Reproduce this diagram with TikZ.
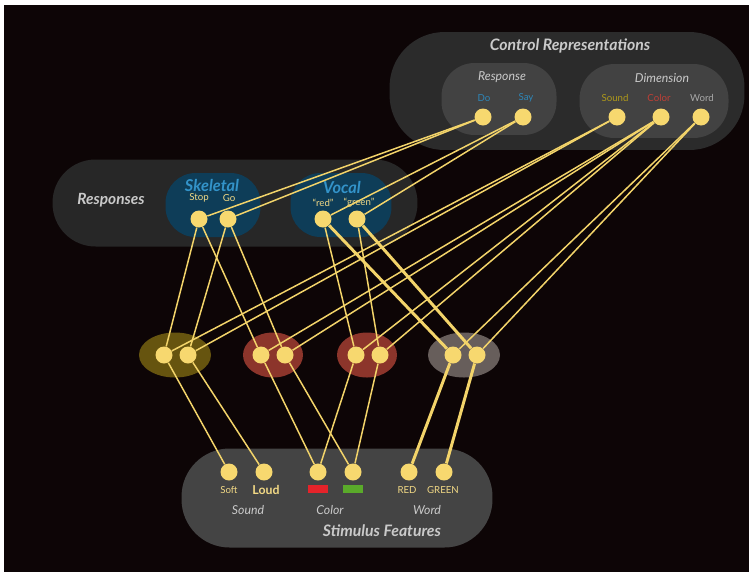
\documentclass[tikz,border=0pt]{standalone}
\usepackage{fontspec}
\setmainfont{Lato}
\usetikzlibrary{positioning}

\definecolor{bgdark}{HTML}{0D0506}
\definecolor{boxouter}{HTML}{2B2B2B}
\definecolor{boxinner}{HTML}{424242}
\definecolor{boxresp}{HTML}{272727}
\definecolor{boxstim}{HTML}{444444}
\definecolor{blobblue}{HTML}{0E3D58}
\definecolor{unityel}{HTML}{F7D86F}
\definecolor{linkyel}{HTML}{F3D46A}
\definecolor{ovsound}{HTML}{66540F}
\definecolor{ovcolor}{HTML}{8C352B}
\definecolor{ovword}{HTML}{675E5B}
\definecolor{titlegray}{HTML}{CACACA}
\definecolor{txtblue}{HTML}{2E86B8}
\definecolor{headblue}{HTML}{3393C9}
\definecolor{txtsound}{HTML}{B09A1A}
\definecolor{txtcolor}{HTML}{BF3F36}
\definecolor{txtword}{HTML}{A9A9A9}
\definecolor{txtyel}{HTML}{F2D985}
\definecolor{rectred}{HTML}{E5232A}
\definecolor{rectgreen}{HTML}{5AAA2A}

\begin{document}
\begin{tikzpicture}[x=0.02cm,y=-0.02cm,
    unit/.style={circle,fill=unityel,minimum size=0.34cm,inner sep=0pt},
    link/.style={draw=linkyel,line width=0.85pt},
    boldlink/.style={draw=linkyel,line width=1.7pt},
    pill/.style={inner sep=0pt},
    head/.style={font=\fontsize{9}{10}\selectfont\bfseries\itshape,text=titlegray},
    bluehead/.style={font=\fontsize{9.3}{10}\selectfont\bfseries\itshape,text=headblue},
    sub/.style={font=\fontsize{7}{8}\selectfont\itshape,text=titlegray},
    small/.style={font=\fontsize{5.5}{6}\selectfont}]
    \useasboundingbox (0,0) rectangle (749,572);
    \fill[bgdark] (4,5) rectangle (749,572); %background

    % containers
    \node[pill,fill=boxouter,minimum width=7.1cm,minimum height=2.36cm,rounded corners=1.1cm] (ctrlbox) at (567,91) {};
    \node[pill,fill=boxinner,minimum width=2.3cm,minimum height=1.44cm,rounded corners=0.66cm] (respbox) at (499,99) {};
    \node[pill,fill=boxinner,minimum width=2.98cm,minimum height=1.48cm,rounded corners=0.7cm] (dimbox) at (654,101) {};
    \node[pill,fill=boxresp,minimum width=7.3cm,minimum height=1.74cm,rounded corners=0.86cm] (responsesbox) at (235,203) {};
    \node[pill,fill=blobblue,minimum width=1.9cm,minimum height=1.28cm,rounded corners=0.6cm] (skelblob) at (213,205) {};
    \node[pill,fill=blobblue,minimum width=2.02cm,minimum height=1.28cm,rounded corners=0.6cm] (vocblob) at (341,205) {};
    \node[pill,fill=boxstim,minimum width=6.22cm,minimum height=1.98cm,rounded corners=0.96cm] (stimbox) at (337,498) {};

    % middle ovals
    \fill[ovsound] (175,355) ellipse (36 and 22.5); %sound
    \fill[ovcolor] (273,355) ellipse (30 and 22.5); %color 1
    \fill[ovcolor] (367,355) ellipse (30 and 22.5); %color 2
    \fill[ovword] (464,355) ellipse (36 and 22.5); %word

    % titles
    \node[head] (ctrltitle) at (570,46) {Control Representations};
    \node[sub] (resptitle) at (502,77) {Response};
    \node[sub] (dimtitle) at (662,78) {Dimension};
    \node[head,font=\fontsize{8.8}{10}\selectfont\bfseries\itshape] (responsestitle) at (111,200) {Responses};
    \node[bluehead] (skeltitle) at (212,185) {Skeletal};
    \node[bluehead] (voctitle) at (342,187) {Vocal};
    \node[head] (stimtitle) at (382,531) {Stimulus Features};

    % control units
    \node[unit] (do) at (483,117) {};
    \node[unit] (say) at (523,117) {};
    \node[unit] (sound) at (617,117) {};
    \node[unit] (color) at (661,117) {};
    \node[unit] (word) at (701,117) {};
    \node[small,text=txtblue] at (484,98) {Do};
    \node[small,text=txtblue] at (526,98) {Say};
    \node[small,text=txtsound] at (615,98) {Sound};
    \node[small,text=txtcolor] at (659,98) {Color};
    \node[small,text=txtword] at (702,98) {Word};

    % response units
    \node[unit] (stop) at (199,219) {};
    \node[unit] (go) at (228,219) {};
    \node[unit] (sayred) at (323,219) {};
    \node[unit] (saygreen) at (357,219) {};
    \node[small,text=txtyel] at (199,198) {Stop};
    \node[small,text=txtyel] at (229,198) {Go};
    \node[small,text=txtyel] at (323,203) {``red''};
    \node[small,text=txtyel] at (359,203) {``green''};

    % hidden units
    \node[unit] (hsa) at (164,355) {};
    \node[unit] (hsb) at (188,355) {};
    \node[unit] (hca) at (261,355) {};
    \node[unit] (hcb) at (285,355) {};
    \node[unit] (hcc) at (356,355) {};
    \node[unit] (hcd) at (380,355) {};
    \node[unit] (hwa) at (453,355) {};
    \node[unit] (hwb) at (477,355) {};

    % stimulus units
    \node[unit] (soft) at (229,472) {};
    \node[unit] (loud) at (264,472) {};
    \node[unit] (inkred) at (318,472) {};
    \node[unit] (inkgreen) at (353,472) {};
    \node[unit] (wordred) at (409,472) {};
    \node[unit] (wordgreen) at (444,472) {};
    \node[small,text=txtyel] at (229,490) {Soft};
    \node[text=txtyel,font=\fontsize{7}{8}\selectfont\bfseries] at (266,490) {Loud};
    \fill[rectred] (308,485) rectangle (328,493);
    \fill[rectgreen] (343,485) rectangle (363,493);
    \node[small,text=txtyel] at (407,490) {RED};
    \node[small,text=txtyel] at (443,490) {GREEN};
    \node[sub] at (248,510) {Sound};
    \node[sub] at (330,510) {Color};
    \node[sub] at (427,510) {Word};

    % control -> responses
    \draw[link] (do) -- (stop);
    \draw[link] (do) -- (go);
    \draw[link] (say) -- (sayred);
    \draw[link] (say) -- (saygreen);
    % control -> hidden
    \draw[link] (sound) -- (hsa);
    \draw[link] (sound) -- (hsb);
    \foreach \h in {hca,hcb,hcc,hcd}
        \draw[link] (color) -- (\h);
    \draw[link] (word) -- (hwa);
    \draw[link] (word) -- (hwb);
    % responses -> hidden
    \draw[link] (stop) -- (hsa);
    \draw[link] (stop) -- (hca);
    \draw[link] (go) -- (hsb);
    \draw[link] (go) -- (hcb);
    \draw[link] (sayred) -- (hcc);
    \draw[link] (saygreen) -- (hcd);
    \draw[boldlink] (sayred) -- (hwa);
    \draw[boldlink] (saygreen) -- (hwb);
    % hidden -> stimulus
    \draw[link] (hsa) -- (soft);
    \draw[link] (hsb) -- (loud);
    \draw[link] (hca) -- (inkred);
    \draw[link] (hcb) -- (inkgreen);
    \draw[link] (hcc) -- (inkred);
    \draw[link] (hcd) -- (inkgreen);
    \draw[boldlink] (hwa) -- (wordred);
    \draw[boldlink] (hwb) -- (wordgreen);
\end{tikzpicture}
\end{document}
